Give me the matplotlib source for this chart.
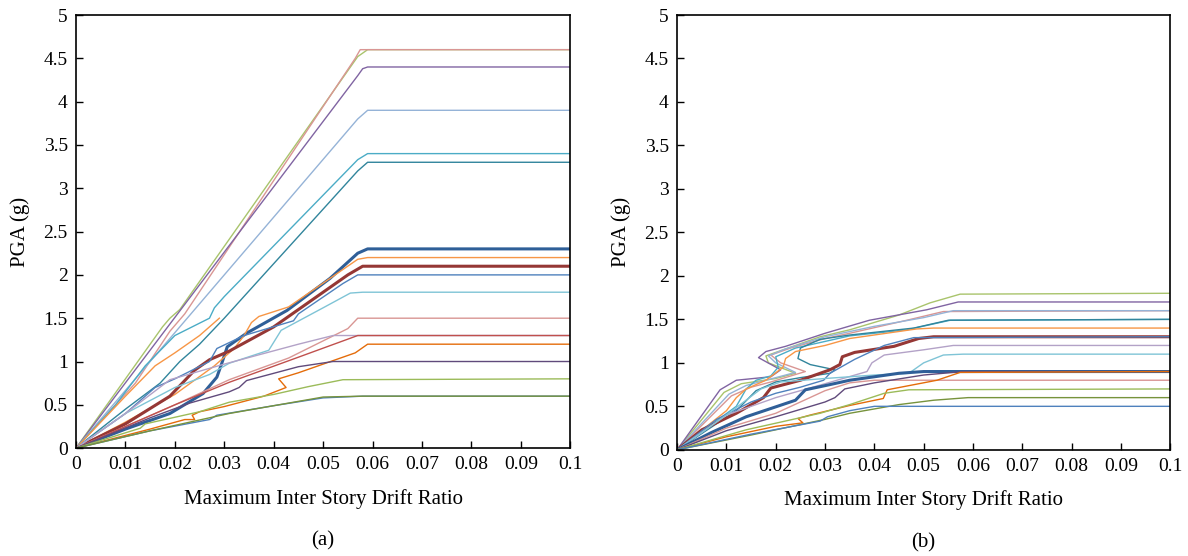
import matplotlib.pyplot as plt

plt.rcParams['font.family'] = ['Liberation Serif', 'DejaVu Serif']

# Office-style palette used for the IDA curves
BLUE, RED, GREEN, PURPLE, AQUA, ORANGE = '#4F81BD', '#C0504D', '#9BBB59', '#8064A2', '#4BACC6', '#F79646'
DBLUE, DRED, DGREEN, DPURPLE, DAQUA, DORANGE = '#2F5F98', '#953735', '#77933C', '#604A7B', '#31859C', '#E46C0A'
LBLUE, LRED, LGREEN, LPURPLE, LAQUA, LORANGE = '#95B3D7', '#D99694', '#A9C46C', '#B3A2C7', '#7FC4D6', '#FAB37A'

# (a) drift ratio / PGA (g) pairs for each record
drift_a = [
    [0, 0.0175, 0.019, 0.021, 0.057, 0.059, 0.1],
    [0, 0.012, 0.019, 0.022, 0.0565, 0.0575, 0.1],
    [0, 0.057, 0.058, 0.059, 0.1],
    [0, 0.057, 0.059, 0.1],
    [0, 0.008, 0.014, 0.02, 0.027, 0.028, 0.03, 0.057, 0.059, 0.1],
    [0, 0.01, 0.017, 0.021, 0.025, 0.03, 0.057, 0.059, 0.1],
    [0, 0.01, 0.016, 0.02, 0.025, 0.029],
    [0, 0.01, 0.019, 0.0257, 0.0285, 0.0295, 0.0306, 0.0346, 0.0427, 0.0514, 0.057, 0.059, 0.1],
    [0, 0.01, 0.02, 0.028, 0.032, 0.034, 0.0355, 0.037, 0.043, 0.057, 0.059, 0.1],
    [0, 0.01, 0.019, 0.024, 0.027, 0.031, 0.04, 0.055, 0.058, 0.1],
    [0, 0.01, 0.016, 0.02, 0.027, 0.0285, 0.034, 0.044, 0.045, 0.054, 0.057, 0.1],
    [0, 0.01, 0.02, 0.027, 0.031, 0.039, 0.0415, 0.05, 0.0555, 0.058, 0.1],
    [0, 0.01, 0.02, 0.031, 0.043, 0.055, 0.057, 0.1],
    [0, 0.01, 0.019, 0.03, 0.045, 0.052, 0.1],
    [0, 0.02, 0.031, 0.045, 0.057, 0.1],
    [0, 0.015, 0.022, 0.024, 0.0235, 0.025, 0.03, 0.038, 0.0425, 0.041, 0.045, 0.05, 0.0565, 0.059, 0.1],
    [0, 0.015, 0.023, 0.031, 0.033, 0.0345, 0.045, 0.052, 0.1],
    [0, 0.013, 0.014, 0.025, 0.031, 0.04, 0.047, 0.054, 0.1],
    [0, 0.015, 0.027, 0.0285, 0.04, 0.05, 0.058, 0.1],
    [0, 0.015, 0.031, 0.043, 0.05, 0.058, 0.1],
]
pga_a = [
    [0, 1.4, 1.5, 1.6, 4.52, 4.6, 4.6],
    [0, 0.75, 1.35, 1.55, 4.5, 4.6, 4.6],
    [0, 4.3, 4.38, 4.4, 4.4],
    [0, 3.8, 3.9, 3.9],
    [0, 0.5, 0.95, 1.3, 1.5, 1.62, 1.75, 3.33, 3.4, 3.4],
    [0, 0.45, 0.75, 1.0, 1.2, 1.5, 3.2, 3.3, 3.3],
    [0, 0.6, 0.95, 1.1, 1.3, 1.5],
    [0, 0.22, 0.4, 0.63, 0.82, 0.98, 1.17, 1.33, 1.59, 1.96, 2.25, 2.3, 2.3],
    [0, 0.3, 0.62, 0.95, 1.15, 1.3, 1.45, 1.52, 1.63, 2.18, 2.2, 2.2],
    [0, 0.28, 0.6, 0.9, 1.02, 1.12, 1.4, 2.0, 2.1, 2.1],
    [0, 0.4, 0.7, 0.8, 1.0, 1.15, 1.3, 1.47, 1.55, 1.9, 2.0, 2.0],
    [0, 0.4, 0.7, 0.85, 0.98, 1.13, 1.36, 1.62, 1.79, 1.8, 1.8],
    [0, 0.25, 0.5, 0.79, 1.04, 1.38, 1.5, 1.5],
    [0, 0.4, 0.79, 0.97, 1.2, 1.3, 1.3],
    [0, 0.5, 0.76, 1.05, 1.3, 1.3],
    [0, 0.22, 0.33, 0.33, 0.38, 0.42, 0.48, 0.6, 0.7, 0.8, 0.87, 0.97, 1.1, 1.2, 1.2],
    [0, 0.35, 0.52, 0.65, 0.7, 0.78, 0.94, 1.0, 1.0],
    [0, 0.23, 0.28, 0.42, 0.53, 0.62, 0.71, 0.79, 0.8],
    [0, 0.2, 0.33, 0.38, 0.49, 0.58, 0.6, 0.6],
    [0, 0.2, 0.4, 0.52, 0.59, 0.6, 0.6],
]
colors_a = [LGREEN, LRED, PURPLE, LBLUE, AQUA, DAQUA, ORANGE, DBLUE, ORANGE, DRED,
            BLUE, LAQUA, LRED, LPURPLE, RED, DORANGE, DPURPLE, GREEN, BLUE, DGREEN]
widths_a = [1.0] * 7 + [2.2, 1.0, 2.2] + [1.0] * 10

# (b)
drift_b = [
    [0, 0.0095, 0.013, 0.02, 0.024, 0.0185, 0.018, 0.022, 0.029, 0.035, 0.045, 0.0513, 0.0574, 0.1],
    [0, 0.0087, 0.012, 0.019, 0.021, 0.0165, 0.018, 0.022, 0.030, 0.039, 0.0506, 0.057, 0.1],
    [0, 0.011, 0.015, 0.019, 0.026, 0.021, 0.019, 0.023, 0.03, 0.035, 0.0466, 0.054, 0.1],
    [0, 0.0105, 0.014, 0.018, 0.024, 0.02, 0.0185, 0.022, 0.03, 0.04, 0.05, 0.056, 0.1],
    [0, 0.012, 0.014, 0.016, 0.019, 0.0205, 0.02, 0.024, 0.035, 0.0466, 0.0554, 0.1],
    [0, 0.012, 0.016, 0.02, 0.025, 0.031, 0.032, 0.027, 0.0245, 0.025, 0.029, 0.035, 0.048, 0.055, 0.1],
    [0, 0.01, 0.012, 0.014, 0.018, 0.0215, 0.022, 0.024, 0.03, 0.035, 0.0486, 0.052, 0.1],
    [0, 0.005, 0.012, 0.0175, 0.019, 0.025, 0.031, 0.033, 0.0335, 0.036, 0.044, 0.049, 0.052, 0.1],
    [0, 0.008, 0.015, 0.02, 0.025, 0.0297, 0.031, 0.036, 0.042, 0.048, 0.1],
    [0, 0.01, 0.02, 0.03, 0.0385, 0.0395, 0.042, 0.05, 0.056, 0.1],
    [0, 0.01, 0.017, 0.021, 0.03, 0.04, 0.047, 0.05, 0.054, 0.058, 0.1],
    [0, 0.007, 0.014, 0.024, 0.026, 0.031, 0.035, 0.045, 0.05, 0.1],
    [0, 0.01, 0.02, 0.025, 0.03, 0.035, 0.04, 0.1],
    [0, 0.01, 0.02, 0.03, 0.032, 0.034, 0.04, 0.05, 0.058, 0.1],
    [0, 0.01, 0.02, 0.0255, 0.0245, 0.027, 0.035, 0.0418, 0.0426, 0.0527, 0.0574, 0.1],
    [0, 0.014, 0.029, 0.035, 0.042, 0.047, 0.1],
    [0, 0.015, 0.03, 0.035, 0.045, 0.052, 0.059, 0.1],
    [0, 0.015, 0.029, 0.0305, 0.035, 0.04, 0.1],
]
pga_b = [
    [0, 0.66, 0.76, 0.82, 0.88, 1.0, 1.08, 1.16, 1.3, 1.38, 1.55, 1.69, 1.79, 1.8],
    [0, 0.69, 0.8, 0.84, 0.92, 1.06, 1.13, 1.19, 1.34, 1.49, 1.61, 1.7, 1.7],
    [0, 0.62, 0.72, 0.78, 0.9, 1.0, 1.09, 1.17, 1.28, 1.34, 1.49, 1.59, 1.6],
    [0, 0.64, 0.74, 0.8, 0.89, 1.0, 1.08, 1.16, 1.3, 1.42, 1.52, 1.6, 1.6],
    [0, 0.5, 0.7, 0.8, 0.85, 0.95, 1.07, 1.17, 1.31, 1.38, 1.49, 1.5],
    [0, 0.45, 0.68, 0.78, 0.83, 0.88, 0.92, 0.98, 1.05, 1.17, 1.27, 1.32, 1.4, 1.49, 1.5],
    [0, 0.45, 0.6, 0.7, 0.8, 0.95, 1.05, 1.13, 1.2, 1.28, 1.39, 1.4, 1.4],
    [0, 0.23, 0.42, 0.6, 0.71, 0.8, 0.92, 0.98, 1.07, 1.12, 1.19, 1.28, 1.3, 1.3],
    [0, 0.35, 0.55, 0.65, 0.72, 0.8, 0.88, 1.04, 1.2, 1.29, 1.3],
    [0, 0.4, 0.6, 0.76, 0.9, 1.0, 1.09, 1.15, 1.2, 1.2],
    [0, 0.4, 0.7, 0.78, 0.82, 0.86, 0.88, 1.0, 1.09, 1.1, 1.1],
    [0, 0.2, 0.38, 0.57, 0.69, 0.75, 0.8, 0.88, 0.9, 0.9],
    [0, 0.25, 0.42, 0.55, 0.68, 0.77, 0.8, 0.8],
    [0, 0.22, 0.38, 0.55, 0.6, 0.7, 0.77, 0.86, 0.9, 0.9],
    [0, 0.15, 0.27, 0.31, 0.36, 0.4, 0.51, 0.59, 0.69, 0.8, 0.89, 0.9],
    [0, 0.23, 0.42, 0.52, 0.65, 0.69, 0.7],
    [0, 0.17, 0.35, 0.42, 0.52, 0.57, 0.6, 0.6],
    [0, 0.18, 0.33, 0.38, 0.45, 0.5, 0.5],
]
colors_b = [LGREEN, PURPLE, LRED, LBLUE, AQUA, DAQUA, ORANGE, DRED, BLUE, LPURPLE,
            LAQUA, DBLUE, LRED, DPURPLE, DORANGE, GREEN, DGREEN, BLUE]
widths_b = [1.0] * 7 + [2.2, 1.0, 1.0, 1.0, 2.2] + [1.0] * 6

xticks = [0, 0.01, 0.02, 0.03, 0.04, 0.05, 0.06, 0.07, 0.08, 0.09, 0.1]
xticklabels = ['0', '0.01', '0.02', '0.03', '0.04', '0.05', '0.06', '0.07', '0.08', '0.09', '0.1']
yticks = [0, 0.5, 1, 1.5, 2, 2.5, 3, 3.5, 4, 4.5, 5]
yticklabels = ['0', '0.5', '1', '1.5', '2', '2.5', '3', '3.5', '4', '4.5', '5']

fig = plt.figure(figsize=(11.88, 5.56), dpi=100)
ax_a = fig.add_axes([0.064, 0.194, 0.416, 0.779])
ax_b = fig.add_axes([0.570, 0.191, 0.415, 0.782])

panels = [(ax_a, drift_a, pga_a, colors_a, widths_a, '(a)'),
          (ax_b, drift_b, pga_b, colors_b, widths_b, '(b)')]

for ax, drifts, pgas, cols, lws, tag in panels:
    for d, p, c, lw in zip(drifts, pgas, cols, lws):
        ax.plot(d, p, color=c, lw=lw, solid_joinstyle='round')
    ax.set_xlim(0, 0.1)
    ax.set_ylim(0, 5)
    ax.set_xticks(xticks)
    ax.set_xticklabels(xticklabels)
    ax.set_yticks(yticks)
    ax.set_yticklabels(yticklabels)
    ax.tick_params(direction='in', length=5, width=1, labelsize=14, pad=6,
                   top=False, right=False)
    for s in ax.spines.values():
        s.set_linewidth(1.2)
    ax.set_xlabel('Maximum Inter Story Drift Ratio', fontsize=15, labelpad=11)
    ax.set_ylabel('PGA (g)', fontsize=15, labelpad=10)
    ax.text(0.5, -0.215, tag, transform=ax.transAxes, ha='center', va='center', fontsize=15)

fig.savefig('out.png', dpi=100)
